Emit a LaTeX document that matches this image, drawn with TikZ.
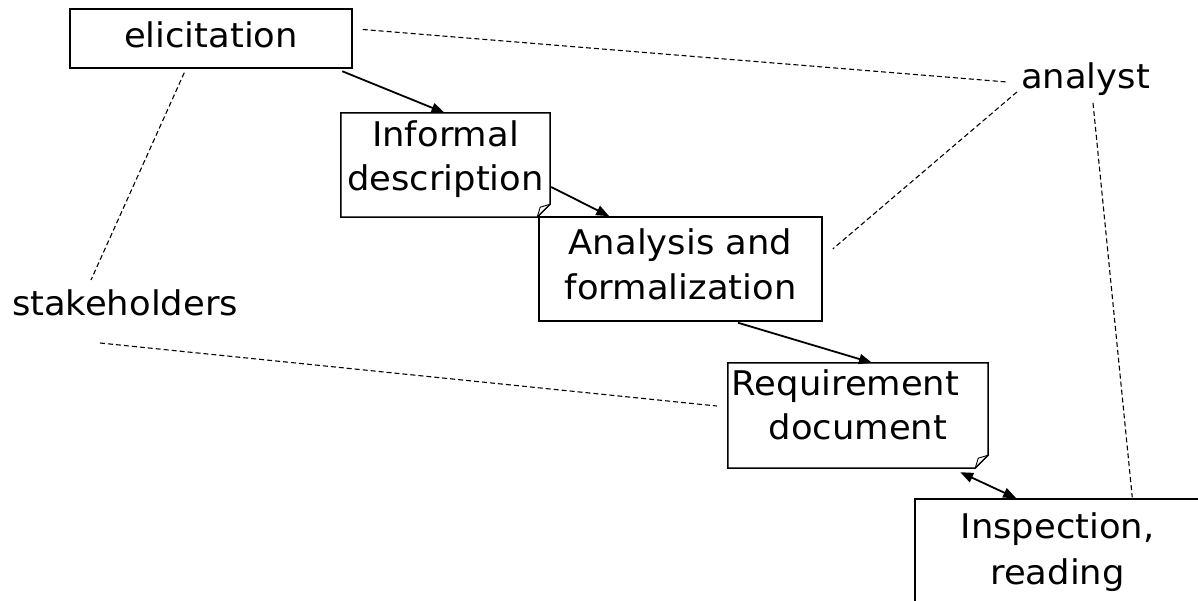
\documentclass[tikz,border=0pt]{standalone}
\usepackage{fontspec}
\setmainfont[FakeStretch=1.04]{DejaVu Sans}
\usetikzlibrary{arrows.meta,calc}
\newcommand{\tp}[1]{\rule{0pt}{#1pt}}
\newcommand{\bt}[1]{\rule[-#1pt]{0pt}{#1pt}}
\begin{document}
\begin{tikzpicture}[x=1pt,y=-1pt,
  every node/.style={font=\fontsize{34}{44}\selectfont},
  boxnode/.style={draw,line width=1.5pt,rectangle,inner sep=0pt,align=center},
  docnode/.style={draw=none,rectangle,inner sep=0pt,align=center},
  txt/.style={inner sep=0pt,anchor=base},
  tip/.style={Triangle[length=13pt,width=10pt]},
  arr/.style={line width=1.8pt,-{Triangle[length=13pt,width=10pt]}},
  darr/.style={line width=1.8pt,{Triangle[length=13pt,width=10pt]}-{Triangle[length=13pt,width=10pt]}},
  dsh/.style={line width=1.1pt,dash pattern=on 5pt off 3pt},
  docline/.style={line width=1.5pt}]
\useasboundingbox (0,0) rectangle (1198,601);
\clip (0,0) rectangle (1198,601);
\fill[white] (0,0) rectangle (1198,601);

% nodes
\node[boxnode,minimum width=282pt,minimum height=59pt] (eli) at (211,38.5) {\tp{26}elicitation\bt{8.4}};
\node[docnode,minimum width=209pt,minimum height=104pt] (inf) at (445.5,165) {\tp{26}Informal\\description\bt{18}};
\node[boxnode,fill=white,minimum width=283pt,minimum height=104pt] (ana) at (680.5,269) {\tp{26}Analysis and\\formalization\bt{10}};
\node[docnode,minimum width=260pt,minimum height=105pt] (req) at (858,415.5) {\tp{26}Requirement\hspace*{25pt}\\document\bt{23}};
\node[boxnode,minimum width=285pt,minimum height=104pt] (insp) at (1057.5,551) {\tp{28}Inspection,\\[2pt]reading\bt{8}};
\node[txt] (analyst) at (1085.5,89) {analyst};
\node[txt] (stk) at (125,316) {stakeholders};

% document outlines with folded corner
\foreach \n in {inf,req}{
  \draw[docline] (\n.north west) -- (\n.north east) -- ($(\n.south east)+(0,-13)$)
    -- ($(\n.south east)+(-13,0)$) -- (\n.south west) -- cycle;
  \draw[line width=0.9pt] ($(\n.south east)+(-13,0)$) -- ($(\n.south east)+(-10,-10)$) -- ($(\n.south east)+(0,-13)$);
}

% solid connectors
\draw[arr] ($(eli.south east)+(-10.5,2.5)$) -- ($(inf.north)+(-1,0)$);
\draw[arr] ($(inf.east)+(1,22)$) -- ($(ana.north west)+(71,0)$);
\draw[arr] ($(ana.south)+(57.5,1)$) -- ($(req.north)+(14,0)$);
\draw[darr] ($(req.south east)+(-28,4)$) -- ($(insp.north west)+(102,0)$);

% dashed associations
\draw[dsh] ($(eli.east)+(10,-9)$) -- ($(analyst.base west)+(-14,-7)$);
\draw[dsh] ($(analyst.base west)+(-4,3)$) -- ($(ana.east)+(10,-20)$);
\draw[dsh] ($(analyst.base)+(7.5,14)$) -- ($(insp.north west)+(218,-1)$);
\draw[dsh] ($(eli.south west)+(115,4)$) -- ($(stk.base)+(-34,-36)$);
\draw[dsh] ($(stk.base)+(-25,27)$) -- ($(req.west)+(-11,-9.5)$);
\end{tikzpicture}
\end{document}
